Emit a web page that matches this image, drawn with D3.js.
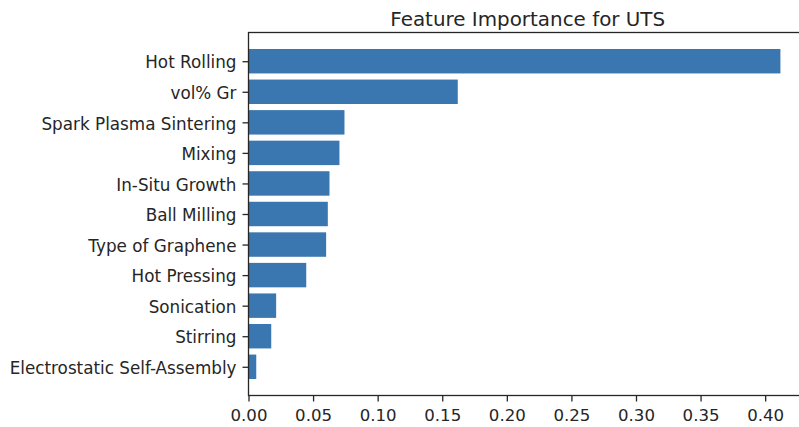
<!DOCTYPE html>
<html>
<head>
<meta charset="utf-8">
<script src="https://cdn.jsdelivr.net/npm/d3@7"></script>
<style>
  html, body { margin: 0; padding: 0; background: #fff; }
  svg { display: block; }
</style>
</head>
<body>
<svg id="chart" width="799" height="427"></svg>
<script>
const categories = [
  "Hot Rolling", "vol% Gr", "Spark Plasma Sintering", "Mixing", "In-Situ Growth",
  "Ball Milling", "Type of Graphene", "Hot Pressing", "Sonication", "Stirring",
  "Electrostatic Self-Assembly"
];
const importance = [0.4118, 0.162, 0.0743, 0.0704, 0.0627, 0.0614, 0.0601, 0.0447, 0.0214, 0.0176, 0.006];
const xTicks = [0, 0.05, 0.10, 0.15, 0.20, 0.25, 0.30, 0.35, 0.40];
const titleText = "Feature Importance for UTS";

const svg = d3.select("#chart");
const plotLeft = 248.5, plotRight = 807, plotTop = 32.5, plotBottom = 395.5;
const font = "DejaVu Sans, sans-serif";
const textColor = "#262626";

const xmax = d3.max(importance) * 1.05;
const x = d3.scaleLinear().domain([0, xmax]).range([plotLeft, plotRight]);
const n = categories.length;
const margin = 0.05 * (n - 1 + 0.8);
const y = d3.scaleLinear().domain([-0.4 - margin, n - 1 + 0.4 + margin]).range([plotTop, plotBottom]);
const barH = Math.abs(y(0.8) - y(0));

svg.append("g").selectAll("rect")
  .data(importance)
  .join("rect")
  .attr("x", x(0))
  .attr("y", (d, i) => y(i) - barH / 2)
  .attr("width", d => x(d) - x(0))
  .attr("height", barH)
  .attr("fill", "#3a76af");

// x axis
const xAxis = d3.axisBottom(x).tickValues(xTicks).tickFormat(d3.format(".2f")).tickSize(6).tickPadding(8);
const gx = svg.append("g").attr("transform", `translate(0,${plotBottom})`).call(xAxis);
gx.select(".domain").remove();
gx.selectAll("line").attr("stroke", textColor).attr("stroke-width", 1.3);
gx.selectAll("text").attr("font-family", font).attr("font-size", "16.6px").attr("fill", textColor);

// y axis
const yAxis = d3.axisLeft(y).tickValues(d3.range(n)).tickFormat(i => categories[i]).tickSize(6).tickPadding(6);
const gy = svg.append("g").attr("transform", `translate(${plotLeft},0)`).call(yAxis);
gy.select(".domain").remove();
gy.selectAll("line").attr("stroke", textColor).attr("stroke-width", 1.3);
gy.selectAll("text").attr("font-family", font).attr("font-size", "16.8px").attr("fill", textColor).attr("dy", "0.40em");

// spines
svg.append("rect")
  .attr("x", plotLeft).attr("y", plotTop)
  .attr("width", plotRight - plotLeft).attr("height", plotBottom - plotTop)
  .attr("fill", "none").attr("stroke", textColor).attr("stroke-width", 1.3);

// title
svg.append("text")
  .attr("x", (plotLeft + plotRight) / 2)
  .attr("y", 25.5)
  .attr("text-anchor", "middle")
  .attr("font-family", font)
  .attr("font-size", "19.9px")
  .attr("fill", textColor)
  .text(titleText);
</script>
</body>
</html>
